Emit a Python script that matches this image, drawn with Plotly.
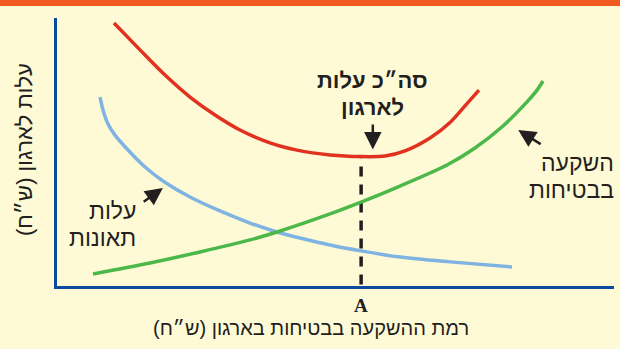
import plotly.graph_objects as go

# Values (abstract units: x 0..100 investment, y 0..100 cost)
blue_x = [7.72, 8.26, 9.16, 10.41, 12.75, 15.8, 19.03, 23.88, 29.26, 34.65, 39.5, 43.63, 49.01, 54.58, 61.58, 70.56, 81.69]
blue_y = [70.5, 65.7, 60.45, 56.3, 50.75, 44.4, 39.2, 33.2, 28.0, 23.5, 20.15, 17.9, 15.3, 13.1, 10.8, 9.0, 7.1]

green_x = [6.46, 16.7, 25.67, 34.65, 39.5, 49.01, 54.58, 61.58, 70.02, 75.04, 80.07, 84.38, 86.18, 87.25]
green_y = [4.5, 8.6, 12.7, 17.2, 20.15, 26.9, 31.3, 37.3, 45.15, 51.5, 59.7, 68.7, 73.1, 76.5]

red_x = [10.23, 14.9, 19.39, 23.88, 28.37, 32.85, 38.24, 43.09, 49.01, 54.58, 58.89, 62.48, 66.97, 70.56, 73.25, 75.76]
red_y = [98.1, 88.1, 78.7, 70.5, 63.8, 58.2, 53.4, 50.7, 48.9, 48.3, 48.5, 50.4, 55.2, 61.0, 67.2, 73.1]

point_A_x = 54.6
point_A_y = 48.3

BG = "#FFFAD6"
AXIS = "#0A4DA0"
FONT = "Liberation Sans, DejaVu Sans, sans-serif"
TXT = "#231F20"

W, H = 620, 349
L, R, T, B = 57, 6, 18, 63
PW, PH = W - L - R, H - T - B


def px_x(p):
    return (p - L) / PW


def px_y(p):
    return (H - B - p) / PH


fig = go.Figure()
fig.add_trace(go.Scatter(x=blue_x, y=blue_y, mode="lines", line=dict(color="#7FB4E2", width=3.5, shape="spline", smoothing=0.8), hoverinfo="skip"))
fig.add_trace(go.Scatter(x=green_x, y=green_y, mode="lines", line=dict(color="#4DB84A", width=3.5, shape="spline", smoothing=0.8), hoverinfo="skip"))
fig.add_trace(go.Scatter(x=red_x, y=red_y, mode="lines", line=dict(color="#E0321F", width=3.5, shape="spline", smoothing=0.8), hoverinfo="skip"))

shapes = [
    dict(type="line", xref="x", yref="y", x0=point_A_x, x1=point_A_x, y0=0.6, y1=point_A_y - 0.6,
         line=dict(color=TXT, width=3.5, dash="10px,8px"), layer="below"),
    dict(type="rect", xref="paper", yref="paper", x0=px_x(-5), x1=px_x(W + 5), y0=px_y(6), y1=px_y(-2),
         line=dict(width=0), fillcolor="#F25A22"),
]

ann = []
# total cost label
ann.append(dict(text="<b>סה״כ עלות</b>", x=px_x(372), y=px_y(80), xref="paper", yref="paper", showarrow=False,
                font=dict(size=22, family=FONT, color=TXT), xanchor="center", yanchor="middle"))
ann.append(dict(text="<b>לארגון</b>", x=px_x(372), y=px_y(108), xref="paper", yref="paper", showarrow=False,
                font=dict(size=22, family=FONT, color=TXT), xanchor="center", yanchor="middle"))
# accident cost label
ann.append(dict(text="עלות", x=px_x(138), y=px_y(211), xref="paper", yref="paper", showarrow=False,
                font=dict(size=23, family=FONT, color=TXT), xanchor="right", yanchor="middle"))
ann.append(dict(text="תאונות", x=px_x(138), y=px_y(238), xref="paper", yref="paper", showarrow=False,
                font=dict(size=23, family=FONT, color=TXT), xanchor="right", yanchor="middle"))
# safety investment label
ann.append(dict(text="השקעה", x=px_x(616), y=px_y(163), xref="paper", yref="paper", showarrow=False,
                font=dict(size=23, family=FONT, color=TXT), xanchor="right", yanchor="middle"))
ann.append(dict(text="בבטיחות", x=px_x(616), y=px_y(190), xref="paper", yref="paper", showarrow=False,
                font=dict(size=23, family=FONT, color=TXT), xanchor="right", yanchor="middle"))

# arrows
arrow_style = dict(showarrow=True, arrowhead=2, arrowsize=1.4, arrowwidth=2.5, arrowcolor=TXT, text="",
                   xref="x", yref="y", axref="x", ayref="y")
ann.append(dict(x=56.7, y=50.9, ax=56.7, ay=60.8, **arrow_style))
ann.append(dict(x=19.0, y=36.6, ax=15.3, ay=31.0, **arrow_style))
ann.append(dict(x=82.8, y=58.2, ax=87.1, ay=52.6, **arrow_style))

# A label
ann.append(dict(text="<b>A</b>", x=point_A_x, y=px_y(305), xref="x", yref="paper", showarrow=False,
                font=dict(size=19, family="Liberation Serif, serif", color=TXT), xanchor="center", yanchor="middle"))
# axis titles
ann.append(dict(text="רמת ההשקעה בבטיחות בארגון (ש״ח)", x=px_x(311), y=px_y(328), xref="paper", yref="paper",
                showarrow=False, font=dict(size=20, family=FONT, color=TXT), xanchor="center", yanchor="middle"))
ann.append(dict(text="עלות לארגון (ש״ח)", x=px_x(24), y=px_y(150), xref="paper", yref="paper", textangle=-90,
                showarrow=False, font=dict(size=22, family=FONT, color=TXT), xanchor="center", yanchor="middle"))

axis_common = dict(showgrid=False, zeroline=False, showticklabels=False, ticks="", showline=True,
                   linecolor=AXIS, linewidth=3, range=[0, 100], fixedrange=True)

fig.update_layout(
    width=W, height=H,
    margin=dict(l=L, r=R, t=T, b=B, pad=0),
    paper_bgcolor=BG, plot_bgcolor=BG,
    showlegend=False,
    xaxis=axis_common,
    yaxis=axis_common,
    shapes=shapes,
    annotations=ann,
)

fig.write_html("out.html", config={"displayModeBar": False},
               post_script="document.body.style.margin='0';document.body.style.background='" + BG + "';")
